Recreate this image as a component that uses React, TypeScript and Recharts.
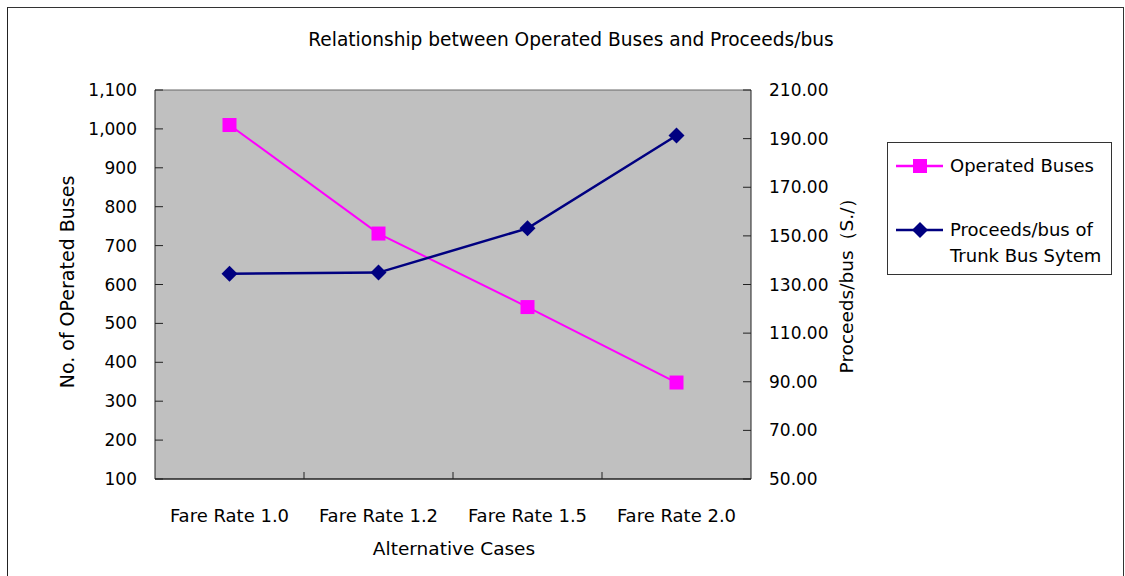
import React from "react";
import {
  ComposedChart,
  Line,
  XAxis,
  YAxis,
  CartesianGrid,
  ReferenceLine,
  Legend,
} from "recharts";

const categories = ["Fare Rate 1.0", "Fare Rate 1.2", "Fare Rate 1.5", "Fare Rate 2.0"];
const operatedBuses = [1010, 731, 542, 348];
const proceedsPerBus = [134.4, 134.9, 153.1, 191.3];
const busTicks = [100, 200, 300, 400, 500, 600, 700, 800, 900, 1000, 1100];
const proceedsTicks = [50, 70, 90, 110, 130, 150, 170, 190, 210];

const data = categories.map((category, i) => ({
  category,
  buses: operatedBuses[i],
  proceeds: proceedsPerBus[i],
}));

const FONT = "'DejaVu Sans', sans-serif";
const MAGENTA = "#FF00FF";
const NAVY = "#000080";
const AXIS = "#222";
const X_TICK_MARGIN = 30;

const renderSquare = (p: any) => {
  if (p.cx == null || p.cy == null) return <g key={`sq-${p.index}`} />;
  return (
    <rect key={`sq-${p.index}`} x={p.cx - 7} y={p.cy - 7} width={14} height={14} fill={MAGENTA} />
  );
};

const renderDiamond = (p: any) => {
  if (p.cx == null || p.cy == null) return <g key={`dm-${p.index}`} />;
  const { cx, cy } = p;
  return (
    <polygon
      key={`dm-${p.index}`}
      points={`${cx},${cy - 8} ${cx + 8},${cy} ${cx},${cy + 8} ${cx - 8},${cy}`}
      fill={NAVY}
    />
  );
};

// category labels centred in each band, tick marks on the band edges
const CategoryTick = (props: any) => {
  const { x, y, payload, width, visibleTicksCount } = props;
  const half = width && visibleTicksCount ? width / visibleTicksCount / 2 : 0;
  const axisY = y - X_TICK_MARGIN;
  return (
    <g>
      {payload.index > 0 && (
        <line x1={x - half} x2={x - half} y1={axisY} y2={axisY - 7} stroke={AXIS} />
      )}
      <text x={x} y={y} dy={12.5} textAnchor="middle" fill="#000" fontSize={18} fontFamily={FONT}>
        {payload.value}
      </text>
    </g>
  );
};

const LegendBox = (props: any) => {
  const items = props.payload || [];
  return (
    <div
      style={{
        width: "100%",
        height: "100%",
        boxSizing: "border-box",
        border: "1px solid #333",
        background: "#fff",
        position: "relative",
        fontFamily: FONT,
        fontSize: 18,
        color: "#000",
      }}
    >
      {items.map((item: any, i: number) => {
        const isBuses = item.dataKey === "buses";
        const top = isBuses ? 11 : 75;
        return (
          <div key={i} style={{ position: "absolute", left: 7, top, display: "flex" }}>
            <svg width={50} height={24} style={{ flex: "none" }}>
              <line x1={1} x2={48} y1={12} y2={12} stroke={item.color} strokeWidth={2.5} />
              {isBuses ? (
                <rect x={18} y={5} width={14} height={14} fill={item.color} />
              ) : (
                <polygon points="25,4 33,12 25,20 17,12" fill={item.color} />
              )}
            </svg>
            <div style={{ marginLeft: 5, lineHeight: "26px", marginTop: -1 }}>
              {isBuses ? (
                item.value
              ) : (
                <>
                  Proceeds/bus of
                  <br />
                  Trunk Bus Sytem
                </>
              )}
            </div>
          </div>
        );
      })}
    </div>
  );
};

const centred = (x: number, y: number, extra: React.CSSProperties = {}): React.CSSProperties => ({
  position: "absolute",
  left: x,
  top: y,
  transform: "translate(-50%, -50%)",
  whiteSpace: "nowrap",
  fontFamily: FONT,
  fontSize: 18.5,
  lineHeight: 1,
  color: "#000",
  ...extra,
});

export default function App() {
  return (
    <div style={{ position: "absolute", left: 0, top: 0, width: 1125, height: 576, overflow: "hidden", background: "#fff" }}>
      <div
        style={{
          position: "absolute",
          left: 7,
          top: 7,
          width: 1115,
          height: 600,
          borderLeft: "1px solid #222",
          borderTop: "1px solid #333",
          borderRight: "1px solid #333",
        }}
      />
      <div style={{ position: "absolute", left: 0, top: 0 }}>
        <ComposedChart
          width={1125}
          height={576}
          data={data}
          margin={{ top: 90, right: 304, bottom: 37, left: 85 }}
          style={{ fontFamily: FONT }}
        >
          <CartesianGrid horizontal={false} vertical={false} fill="#C0C0C0" />
          <ReferenceLine yAxisId="left" y={1100} stroke="#666" />
          <XAxis
            dataKey="category"
            scale="band"
            height={60}
            axisLine={{ stroke: AXIS, strokeWidth: 1.5 }}
            tickLine={false}
            tickSize={0}
            tickMargin={X_TICK_MARGIN}
            tick={<CategoryTick />}
            interval={0}
          />
          <YAxis
            yAxisId="left"
            width={70}
            domain={[100, 1100]}
            ticks={busTicks}
            interval={0}
            tickSize={-8}
            tickMargin={26}
            axisLine={{ stroke: AXIS }}
            tickLine={{ stroke: AXIS }}
            tick={{ fill: "#000", fontSize: 17 }}
            tickFormatter={(v: number) => v.toLocaleString("en-US")}
          />
          <YAxis
            yAxisId="right"
            orientation="right"
            width={70}
            domain={[50, 210]}
            ticks={proceedsTicks}
            interval={0}
            tickSize={-8}
            tickMargin={26}
            axisLine={{ stroke: AXIS }}
            tickLine={{ stroke: AXIS }}
            tick={{ fill: "#000", fontSize: 17 }}
            tickFormatter={(v: number) => v.toFixed(2)}
          />
          <Legend
            layout="vertical"
            align="center"
            verticalAlign="middle"
            content={<LegendBox />}
            wrapperStyle={{ position: "absolute", left: 887, top: 142, width: 225, height: 133 }}
          />
          <Line
            yAxisId="left"
            dataKey="buses"
            name="Operated Buses"
            stroke={MAGENTA}
            strokeWidth={2}
            dot={renderSquare}
            activeDot={false}
            isAnimationActive={false}
          />
          <Line
            yAxisId="right"
            dataKey="proceeds"
            name="Proceeds/bus of Trunk Bus Sytem"
            stroke={NAVY}
            strokeWidth={2.5}
            dot={renderDiamond}
            activeDot={false}
            isAnimationActive={false}
          />
        </ComposedChart>
      </div>
      <div style={centred(571, 40, { fontSize: 18.6 })}>Relationship between Operated Buses and Proceeds/bus</div>
      <div style={centred(67, 282, { fontSize: 19, transform: "translate(-50%, -50%) rotate(-90deg)" })}>
        No. of OPerated Buses
      </div>
      <div style={centred(847, 281, { transform: "translate(-50%, -50%) rotate(-90deg)" })}>
        Proceeds/bus（S./）
      </div>
      <div style={centred(454, 549)}>Alternative Cases</div>
    </div>
  );
}
